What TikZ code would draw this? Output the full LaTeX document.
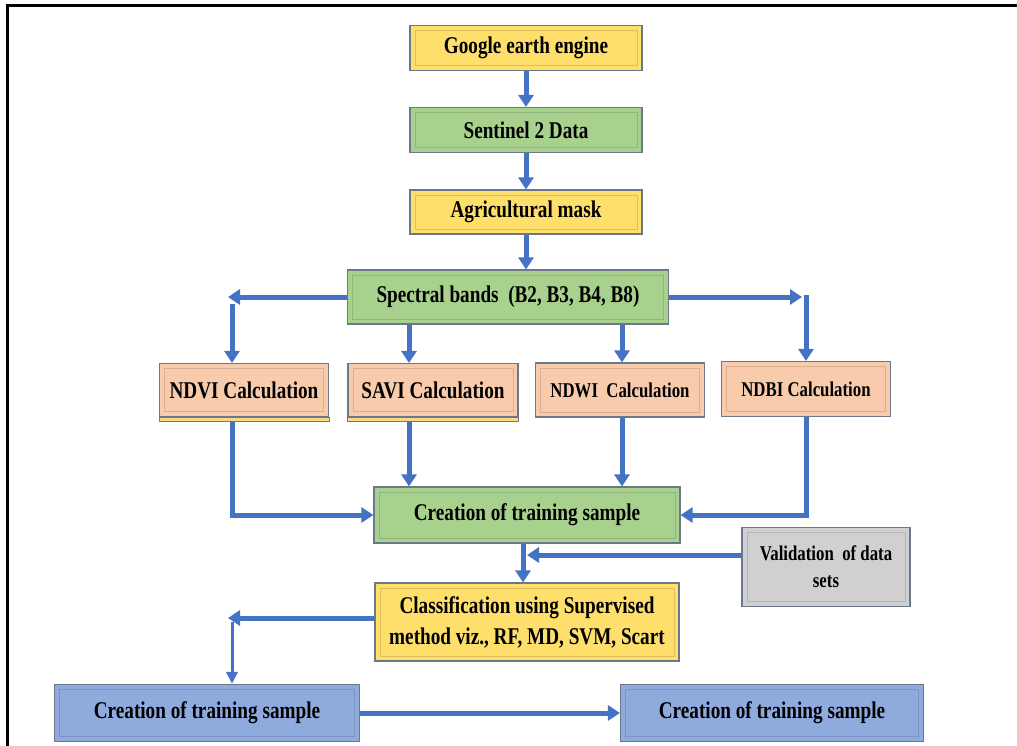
\documentclass[tikz,border=0pt]{standalone}
\usepackage{fontspec}
\setmainfont{Liberation Serif}[FakeStretch=0.8]
\usetikzlibrary{calc, arrows.meta}

\begin{document}
\begin{tikzpicture}[x=1pt, y=-1pt]
    % Define colors
    \definecolor{borderColour}{HTML}{6B7888}
    \definecolor{yellowFill}{HTML}{FFDF6B}
    \definecolor{greenFill}{HTML}{A9D18E}
    \definecolor{peachFill}{HTML}{F8CBAD}
    \definecolor{greyFill}{HTML}{D0D0D0}
    \definecolor{blueFill}{HTML}{8FAADC}
    \definecolor{arrowColour}{HTML}{4472C4}

    % Define styles
    \tikzset{
        box/.style={draw=borderColour, fill=#1, line width=1.2pt, align=center, inner sep=2pt,
            font=\fontsize{24pt}{31pt}\selectfont\bfseries,
            path picture={\draw[#1!70!black, line width=0.8pt, opacity=0.45]
                ($(path picture bounding box.south west)+(5pt,5pt)$) rectangle
                ($(path picture bounding box.north east)+(-5pt,-5pt)$);}},
        smallText/.style={font=\fontsize{21pt}{27pt}\selectfont\bfseries},
        flow/.style={draw=arrowColour, line width=5pt, -{Triangle[width=15pt,length=12pt]}},
        thinFlow/.style={draw=arrowColour, line width=3pt, -{Triangle[width=11pt,length=12pt]}},
    }

    % Fix the page and draw the frame
    \useasboundingbox (0,0) rectangle (1017,746);
    \clip (0,0) rectangle (1017,746);
    \draw[line width=3pt] (7,6) rectangle (1040,770);

    % Draw the boxes
    \node[box=yellowFill, minimum width=232pt, minimum height=45pt] (gee) at (526,48) {Google earth engine};
    \node[box=greenFill, minimum width=232pt, minimum height=45pt] (sentinel) at (526,130) {Sentinel 2 Data};
    \node[box=yellowFill, minimum width=232pt, minimum height=44pt] (mask) at (526,212) {Agricultural mask};
    \node[box=greenFill, minimum width=321pt, minimum height=54pt] (bands) at (508,297) {Spectral bands~ (B2, B3, B4, B8)};
    \node[box=peachFill, minimum width=169pt, minimum height=53pt] (ndvi) at (244,390) {NDVI Calculation};
    \node[box=peachFill, minimum width=170pt, minimum height=53pt] (savi) at (433,390) {SAVI Calculation};
    \node[box=peachFill, smallText, minimum width=169pt, minimum height=54pt] (ndwi) at (620,390) {NDWI~ Calculation};
    \node[box=peachFill, smallText, minimum width=169pt, minimum height=55pt] (ndbi) at (806,389) {NDBI Calculation};
    \node[box=greenFill, minimum width=306pt, minimum height=56pt] (training) at (527,515) {Creation of training sample};
    \node[box=greyFill, smallText, minimum width=168pt, minimum height=79pt] (validation) at (826,567) {Validation~ of data\\sets};
    \node[box=yellowFill, minimum width=304pt, minimum height=78pt] (classify) at (527,622) {Classification using Supervised\\method viz., RF, MD, SVM, Scart};
    \node[box=blueFill, minimum width=305pt, minimum height=57pt] (sampleLeft) at (207,713) {Creation of training sample};
    \node[box=blueFill, minimum width=303pt, minimum height=57pt] (sampleRight) at (772,713) {Creation of training sample};

    % Strip under the first two index boxes
    \foreach \idx in {ndvi, savi}
        \draw[draw=borderColour, fill=yellowFill!60!peachFill, line width=0.8pt] (\idx.south west) rectangle ([yshift=-4pt]\idx.south east);

    % Define the bends and line positions
    \coordinate (ndviCorner) at (232,297);
    \coordinate (ndbiCorner) at (806,297);
    \coordinate (ndviJoin) at (232,515);
    \coordinate (ndbiJoin) at (806,515);
    \coordinate (saviLine) at (409,0);
    \coordinate (ndwiLine) at (622,0);
    \coordinate (trainLine) at (523,0);
    \coordinate (validJoin) at (527,555);
    \coordinate (classJoin) at (232,618);

    % Draw the main chain
    \draw[flow] (gee) -- (sentinel);
    \draw[flow] (sentinel) -- (mask);
    \draw[flow] (mask.south) -- (mask.south |- bands.north);

    % Spectral bands to the four indices
    \draw[flow] (bands.west) -- ($(ndviCorner)+(-4,0)$);
    \draw[flow] ($(ndviCorner)+(0,7)$) -- (ndvi.north -| ndviCorner);
    \draw[flow] (bands.south -| saviLine) -- (savi.north -| saviLine);
    \draw[flow] (bands.south -| ndwiLine) -- (ndwi.north -| ndwiLine);
    \draw[flow] (bands.east) -- ($(ndbiCorner)+(-4,0)$);
    \draw[flow] ($(ndbiCorner)+(0,-2)$) -- (ndbi.north);

    % Indices to the training sample
    \draw[flow] ([yshift=-4pt]ndvi.south -| ndviCorner) -- (ndviJoin) -- (training.west);
    \draw[flow] ([yshift=-4pt]savi.south -| saviLine) -- (training.north -| saviLine);
    \draw[flow] (ndwi.south -| ndwiLine) -- (training.north -| ndwiLine);
    \draw[flow] (ndbi.south) -- (ndbiJoin) -- (training.east);

    % Training sample to classification, validation joins in
    \draw[flow] (training.south -| trainLine) -- (classify.north -| trainLine);
    \draw[flow] (validation.west |- validJoin) -- (validJoin);

    % Classification to the two outputs
    \draw[flow] (classify.west |- classJoin) -- ($(classJoin)+(-4,0)$);
    \draw[thinFlow] ($(classJoin)+(0,4)$) -- (sampleLeft.north -| classJoin);
    \draw[flow] (sampleLeft) -- (sampleRight);

\end{tikzpicture}
\end{document}
